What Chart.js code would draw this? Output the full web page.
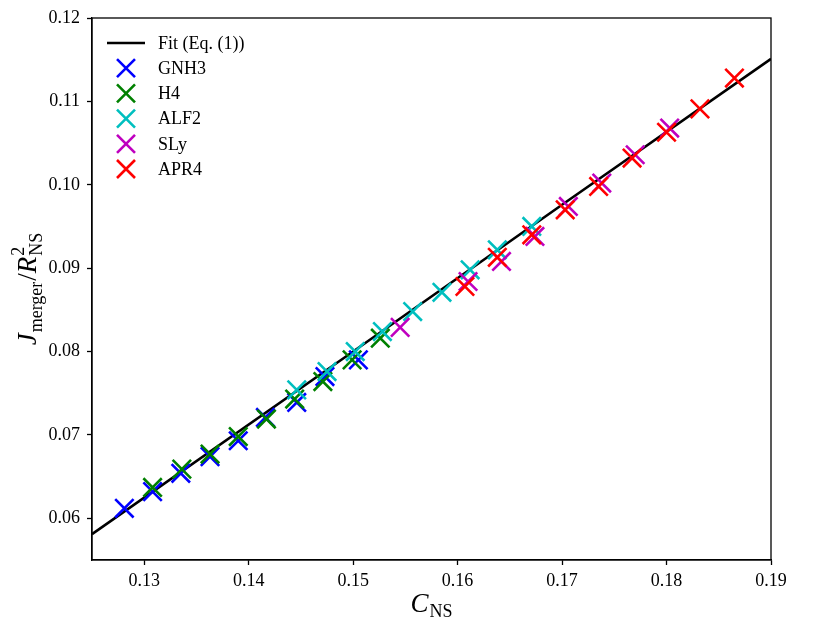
<!DOCTYPE html>
<html><head><meta charset="utf-8">
<script src="https://cdn.jsdelivr.net/npm/chart.js@4.4.0/dist/chart.umd.min.js"></script>
<style>html,body{margin:0;padding:0;background:#fff}</style>
</head><body>
<canvas id="c" width="830" height="623"></canvas>
<script>
// ---- data ----
const fitX = [0.125, 0.15, 0.17, 0.19];
const fitY = [0.0581, 0.0800, 0.0976, 0.1151];

const gnh3X = [0.1281, 0.1308, 0.1335, 0.1363, 0.1390, 0.1416, 0.1446, 0.1473, 0.1505];
const gnh3Y = [0.0612, 0.0632, 0.0654, 0.0674, 0.0693, 0.0721, 0.0739, 0.0770, 0.0790];

const h4X = [0.1308, 0.1336, 0.1363, 0.1390, 0.1417, 0.1444, 0.1471, 0.1499, 0.1526];
const h4Y = [0.0637, 0.0659, 0.0677, 0.0698, 0.0719, 0.0743, 0.0764, 0.0790, 0.0816];

const alf2X = [0.1446, 0.1475, 0.1502, 0.1528, 0.1557, 0.1585, 0.1612, 0.1638, 0.1671];
const alf2Y = [0.0754, 0.0776, 0.0800, 0.0824, 0.0848, 0.0871, 0.0898, 0.0922, 0.0950];

const slyX = [0.1545, 0.1610, 0.1642, 0.1674, 0.1706, 0.1738, 0.1770, 0.1803];
const slyY = [0.0829, 0.0884, 0.0908, 0.0938, 0.0974, 0.1002, 0.1036, 0.1068];

const apr4X = [0.1607, 0.1638, 0.1671, 0.1703, 0.1735, 0.1767, 0.1800, 0.1832, 0.1865];
const apr4Y = [0.0878, 0.0913, 0.0940, 0.0970, 0.0998, 0.1032, 0.1063, 0.1091, 0.1128];

const xTicks = [0.13, 0.14, 0.15, 0.16, 0.17, 0.18, 0.19];
const yTicks = [0.06, 0.07, 0.08, 0.09, 0.10, 0.11, 0.12];

const seriesNames = ['GNH3', 'H4', 'ALF2', 'SLy', 'APR4'];
const seriesColors = ['#0000ff', '#008000', '#00bfbf', '#bf00bf', '#ff0000'];
const fitLabel = 'Fit (Eq. (1))';

// ---- build ----
const pts = (xs, ys) => xs.map((x, i) => ({x: x, y: ys[i]}));
const seriesData = [pts(gnh3X, gnh3Y), pts(h4X, h4Y), pts(alf2X, alf2Y), pts(slyX, slyY), pts(apr4X, apr4Y)];

const SERIF = '"Liberation Serif", "DejaVu Serif", serif';

const datasets = [{
  label: fitLabel, data: pts(fitX, fitY), showLine: true, borderColor: '#000', backgroundColor: '#000',
  borderWidth: 2.6, pointRadius: 0, pointHoverRadius: 0, order: 10
}];
seriesNames.forEach((n, i) => datasets.push({
  label: n, data: seriesData[i], pointStyle: 'crossRot', pointRadius: 13, pointHoverRadius: 13,
  borderColor: seriesColors[i], backgroundColor: seriesColors[i], pointBorderWidth: 2.6,
  showLine: false, order: 5 - i
}));

function drawSeq(ctx, segs, x, y) {
  let cx = x;
  for (const s of segs) {
    if (s.stack) {
      ctx.font = s.stack[0].font;
      const w1 = ctx.measureText(s.stack[0].t).width;
      ctx.fillText(s.stack[0].t, cx, y + s.stack[0].dy);
      ctx.font = s.stack[1].font;
      const w2 = ctx.measureText(s.stack[1].t).width;
      ctx.fillText(s.stack[1].t, cx, y + s.stack[1].dy);
      cx += Math.max(w1, w2);
    } else {
      ctx.font = s.font;
      ctx.fillText(s.t, cx, y + (s.dy || 0));
      cx += ctx.measureText(s.t).width + (s.after || 0);
    }
  }
  return cx - x;
}
function seqWidth(ctx, segs) {
  let w = 0;
  for (const s of segs) {
    if (s.stack) {
      ctx.font = s.stack[0].font; const a = ctx.measureText(s.stack[0].t).width;
      ctx.font = s.stack[1].font; const b = ctx.measureText(s.stack[1].t).width;
      w += Math.max(a, b);
    } else { ctx.font = s.font; w += ctx.measureText(s.t).width + (s.after || 0); }
  }
  return w;
}

const decor = {
  id: 'decor',
  afterDraw(chart) {
    const ctx = chart.ctx, a = chart.chartArea;
    ctx.save();
    ctx.strokeStyle = '#000'; ctx.lineWidth = 1.3;
    ctx.strokeRect(a.left, a.top, a.right - a.left, a.bottom - a.top);

    // legend
    const lx = 126, ly0 = 43, dyL = 25.2, tx = 158;
    ctx.textBaseline = 'middle'; ctx.textAlign = 'left'; ctx.fillStyle = '#000';
    ctx.font = '18px ' + SERIF;
    ctx.lineWidth = 2.6; ctx.strokeStyle = '#000';
    ctx.beginPath(); ctx.moveTo(107, ly0); ctx.lineTo(145, ly0); ctx.stroke();
    ctx.fillText(fitLabel, tx, ly0 + 1);
    seriesNames.forEach((n, i) => {
      const y = ly0 + dyL * (i + 1), d = 9;
      ctx.strokeStyle = seriesColors[i]; ctx.lineWidth = 2.6;
      ctx.beginPath();
      ctx.moveTo(lx - d, y - d); ctx.lineTo(lx + d, y + d);
      ctx.moveTo(lx - d, y + d); ctx.lineTo(lx + d, y - d);
      ctx.stroke();
      ctx.fillStyle = '#000';
      ctx.fillText(n, tx, y + 1);
    });

    // x title
    ctx.textBaseline = 'alphabetic';
    const big = 'italic 27px ' + SERIF, small = '18px ' + SERIF;
    const xs = [{t: 'C', font: big, after: 1}, {t: 'NS', font: small, dy: 5}];
    const xw = seqWidth(ctx, xs);
    drawSeq(ctx, xs, (a.left + a.right) / 2 - xw / 2, 612);

    // y title
    const ys = [
      {t: 'J', font: big, after: 1}, {t: 'merger', font: small, dy: 6, after: 1},
      {t: '/', font: '27px ' + SERIF},
      {t: 'R', font: big, after: 1},
      {stack: [{t: '2', font: small, dy: -12}, {t: 'NS', font: small, dy: 6}]}
    ];
    const yw = seqWidth(ctx, ys);
    ctx.translate(36, (a.top + a.bottom) / 2);
    ctx.rotate(-Math.PI / 2);
    drawSeq(ctx, ys, -yw / 2, 0);
    ctx.restore();
  }
};

new Chart(document.getElementById('c'), {
  type: 'scatter',
  data: {datasets: datasets},
  options: {
    responsive: false, animation: false, devicePixelRatio: 1,
    layout: {padding: {top: 18, right: 59, left: 0, bottom: 0}},
    plugins: {legend: {display: false}, tooltip: {enabled: false}},
    scales: {
      x: {
        type: 'linear', min: 0.125, max: 0.19,
        afterBuildTicks: s => { s.ticks = xTicks.map(v => ({value: v})); },
        afterFit: s => { s.height = 63; },
        ticks: {callback: v => v.toFixed(2), color: '#000', font: {family: SERIF, size: 18}, padding: 5, maxRotation: 0, autoSkip: false},
        grid: {display: true, drawOnChartArea: false, drawTicks: true, tickLength: 5, color: '#000', tickWidth: 1.3},
        border: {display: true, color: '#000', width: 1.3}
      },
      y: {
        type: 'linear', min: 0.055, max: 0.12,
        afterBuildTicks: s => { s.ticks = yTicks.map(v => ({value: v})); },
        afterFit: s => { s.width = 92; },
        ticks: {callback: v => v.toFixed(2), color: '#000', font: {family: SERIF, size: 18}, padding: 7, autoSkip: false},
        grid: {display: true, drawOnChartArea: false, drawTicks: true, tickLength: 5, color: '#000', tickWidth: 1.3},
        border: {display: true, color: '#000', width: 1.3}
      }
    }
  },
  plugins: [decor]
});
</script>
</body></html>
